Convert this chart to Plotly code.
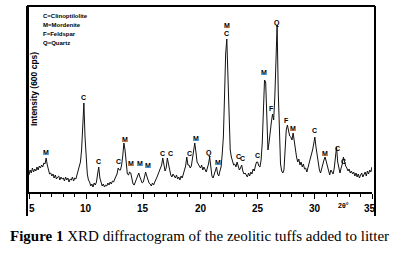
import plotly.graph_objects as go

# 2-theta grid (degrees), step 0.1 from 5.0 to 35.0
two_theta = [round(5 + 0.1 * i, 1) for i in range(301)]

# Intensity (arbitrary units, 600 cps scale)
intensity = [
    17, 22, 19, 24, 20, 23, 21, 25, 22, 26,      # 5
    24, 27, 25, 29, 28, 34, 27, 22, 18, 19,      # 6
    16, 18, 14, 17, 13, 15, 16, 12, 15, 13,      # 7
    14, 11, 15, 12, 14, 10, 13, 12, 15, 11,      # 8
    14, 13, 17, 22, 26, 30, 42, 68, 89, 55,      # 9
    30, 18, 12, 10, 6, 8, 5, 9, 7, 10,           # 10
    18, 25, 14, 9, 6, 8, 5, 7, 6, 9,             # 11
    7, 10, 8, 11, 10, 13, 15, 18, 24, 22,        # 12
    22, 27, 36, 49, 42, 30, 18, 17, 20, 19,      # 13
    12, 8, 7, 10, 13, 16, 19, 15, 12, 9,         # 14
    10, 14, 20, 16, 12, 9, 8, 6, 9, 7,           # 15
    10, 12, 15, 18, 21, 22, 27, 34, 26, 21,      # 16
    24, 34, 28, 20, 17, 15, 18, 16, 14, 17,      # 17
    13, 15, 12, 16, 14, 18, 22, 26, 35, 27,      # 18
    27, 24, 26, 34, 42, 49, 40, 30, 28, 26,      # 19
    24, 27, 22, 25, 23, 20, 24, 28, 35, 26,      # 20
    16, 14, 18, 22, 25, 18, 16, 21, 25, 38,      # 21
    55, 95, 138, 153, 110, 70, 42, 35, 30, 27,   # 22
    28, 25, 30, 24, 22, 24, 27, 21, 18, 19,      # 23
    17, 15, 19, 16, 20, 18, 23, 21, 26, 30,      # 24
    30, 26, 25, 32, 49, 85, 112, 110, 80, 42,    # 25
    50, 62, 70, 78, 72, 95, 140, 167, 100, 55,   # 26
    28, 21, 19, 22, 40, 62, 67, 60, 56, 55,      # 27
    52, 59, 50, 42, 35, 30, 33, 27, 30, 25,      # 28
    28, 23, 24, 20, 24, 28, 33, 38, 42, 48,      # 29
    55, 45, 36, 28, 22, 19, 24, 28, 32, 35,      # 30
    30, 25, 22, 17, 22, 20, 18, 24, 32, 45,      # 31
    30, 22, 19, 24, 28, 35, 30, 26, 24, 21,      # 32
    23, 19, 21, 18, 20, 16, 19, 15, 18, 14,      # 33
    17, 19, 15, 18, 20, 16, 21, 18, 22, 20,      # 34
    25,
]

# Phase labels over peaks
label_x = [6.5, 9.8, 11.1, 12.85, 13.4, 13.95, 14.7, 15.4, 16.7, 17.35, 19.0,
           19.6, 20.75, 21.5, 22.3, 22.3, 23.3, 23.7, 24.95, 25.55, 26.25,
           26.7, 27.55, 28.1, 30.0, 30.9, 31.95, 32.55]
label_y = [40, 95, 31, 31, 53, 29, 29, 27, 39, 39, 39,
           54, 39, 30, 167, 159, 36, 34, 37, 120, 84,
           169, 72, 64, 62, 39, 44, 31]
label_text = ["M", "C", "C", "C", "M", "M", "M", "M", "C", "C", "C",
              "M", "Q", "M", "M", "C", "C", "C", "C", "M", "F",
              "Q", "F", "M", "C", "M", "C", "C"]

legend_lines = ["C=Clinoptilolite", "M=Mordenite", "F=Feldspar", "Q=Quartz"]
tick_vals = [5, 10, 15, 20, 25, 30, 35]

W, H = 395, 259
L, R, T, B = 29, 372, 6, 192


def px(xp):
    return (xp - L) / (R - L)


def py(yp):
    return (B - yp) / (B - T)


fig = go.Figure()
fig.add_trace(go.Scatter(x=two_theta, y=intensity, mode="lines",
                         line=dict(color="#111111", width=1), hoverinfo="skip"))

for xv, yv, t in zip(label_x, label_y, label_text):
    fig.add_annotation(x=xv, y=yv, text="<b>%s</b>" % t, showarrow=False,
                       xref="x", yref="y", xanchor="center", yanchor="middle",
                       font=dict(family="Liberation Sans", size=7, color="black"))

for i, s in enumerate(legend_lines):
    fig.add_annotation(x=px(41), y=py(16 + 9 * i), xref="paper", yref="paper",
                       text="<b>%s</b>" % s, showarrow=False, xanchor="left",
                       yanchor="middle",
                       font=dict(family="Liberation Sans Narrow, Liberation Sans",
                                 size=6, color="black"))

fig.add_annotation(x=px(34), y=py(89), xref="paper", yref="paper",
                   text="<b>Intensity (600 cps)</b>", textangle=-90,
                   showarrow=False, xanchor="center", yanchor="middle",
                   font=dict(family="Liberation Sans", size=8.5, color="black"))

fig.add_annotation(x=px(343), y=py(205), xref="paper", yref="paper",
                   text="<b>2θ°</b>", showarrow=False, xanchor="center",
                   yanchor="middle",
                   font=dict(family="Liberation Sans", size=7, color="black"))

# tick labels (end labels nudged inside the frame as in the original)
for v in tick_vals:
    shift = 2.5 if v == tick_vals[0] else (-2 if v == tick_vals[-1] else 0)
    fig.add_annotation(x=v, y=py(209), xref="x", yref="paper",
                       text="<b>%d</b>" % v, showarrow=False, xanchor="center",
                       yanchor="middle", xshift=shift,
                       font=dict(family="Liberation Sans", size=10, color="black"))

fig.add_annotation(x=px(199.5), y=py(236), xref="paper", yref="paper",
                   text="<b>Figure 1</b> XRD diffractogram of the zeolitic tuffs added to litter",
                   showarrow=False, xanchor="center", yanchor="middle",
                   font=dict(family="Liberation Serif", size=15, color="black"))

# outer frame (left, top, right)
for x0, y0, x1, y1 in [(27, 216, 27, 6), (27, 6, 375, 6), (375, 6, 375, 216)]:
    fig.add_shape(type="line", xref="paper", yref="paper",
                  x0=px(x0), y0=py(y0), x1=px(x1), y1=py(y1),
                  line=dict(color="black", width=2))

fig.update_layout(
    template="none",
    width=W, height=H,
    margin=dict(l=L, r=W - R, t=T, b=H - B, pad=0),
    paper_bgcolor="white", plot_bgcolor="white",
    font=dict(color="black"),
    showlegend=False,
)
fig.update_xaxes(range=[5, 35], showgrid=False, zeroline=False,
                 showline=True, linecolor="black", linewidth=2,
                 ticks="outside", ticklen=5, tickwidth=1, tickcolor="black",
                 tickvals=tick_vals, showticklabels=False,
                 minor=dict(dtick=1, ticks="outside", ticklen=3, tickcolor="black",
                            tickwidth=1, showgrid=False))
fig.update_yaxes(range=[0, 186], showgrid=False, zeroline=False,
                 showline=True, linecolor="black", linewidth=2,
                 showticklabels=False, ticks="")

fig.write_html("out.html", config={"displayModeBar": False},
               post_script="document.body.style.margin='0';")
